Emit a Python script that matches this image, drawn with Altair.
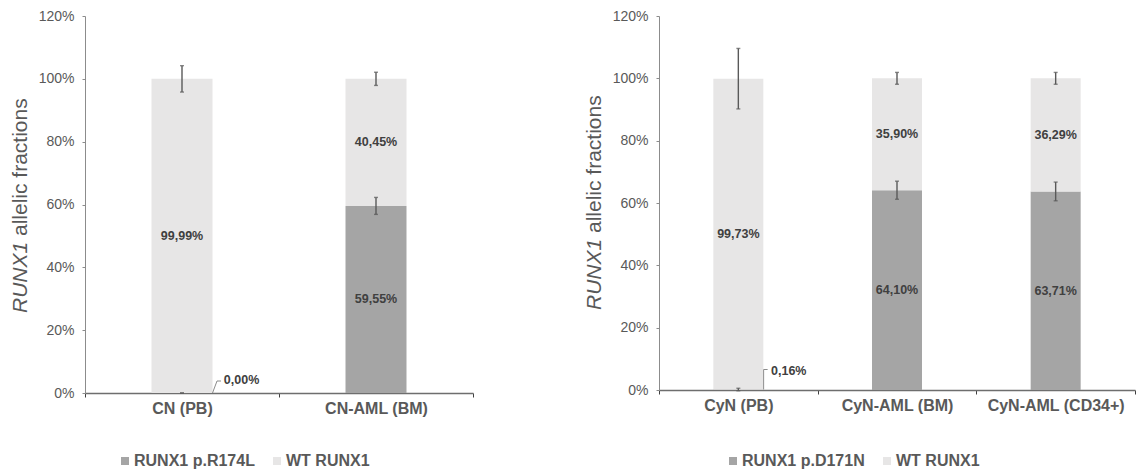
import altair as alt
import pandas as pd

FONT = "Liberation Sans"

# Left panel: CN patient
cn_categories = ["CN (PB)", "CN-AML (BM)"]
cn_mutant = [0.00, 59.55]
cn_wild_type = [99.99, 40.45]
cn_mutant_sd = [0.0, 2.7]
cn_wild_type_sd = [4.2, 2.1]
cn_mutant_name = "RUNX1 p.R174L"

# Right panel: CyN patient
cyn_categories = ["CyN (PB)", "CyN-AML (BM)", "CyN-AML (CD34+)"]
cyn_mutant = [0.16, 64.10, 63.71]
cyn_wild_type = [99.73, 35.90, 36.29]
cyn_mutant_sd = [0.4, 2.9, 3.0]
cyn_wild_type_sd = [9.7, 1.9, 1.9]
cyn_mutant_name = "RUNX1 p.D171N"

wild_type_name = "WT RUNX1"
y_ticks = [0, 20, 40, 60, 80, 100, 120]
title_italic = "RUNX1"
title_rest = "allelic fractions"

DARK = "#a5a5a5"
LIGHT = "#e7e6e6"
TEXT = "#595959"


def pct(v):
    return f"{v:.2f}%".replace(".", ",")


def panel(categories, mutant, wild_type, mutant_sd, wild_type_sd, mutant_name,
          width, height, bar_size, legend_x, leader):
    rows = []
    for c, m, w, ms, ws in zip(categories, mutant, wild_type, mutant_sd, wild_type_sd):
        rows.append(dict(cat=c, series=mutant_name, lo=0.0, hi=m, value=m, sd=ms))
        rows.append(dict(cat=c, series=wild_type_name, lo=m, hi=m + w, value=w, sd=ws))
    seg = pd.DataFrame(rows)
    seg["mid"] = (seg["lo"] + seg["hi"]) / 2
    seg["label"] = seg["value"].map(pct)
    seg["err_lo"] = seg["hi"] - seg["sd"]
    seg["err_hi"] = seg["hi"] + seg["sd"]
    inside = seg[seg["value"] >= 5]
    outside = seg[(seg["value"] < 5) & (seg["series"] == mutant_name)]

    x_axis = alt.Axis(
        title=None, labelAngle=0, labelFont=FONT, labelFontSize=16,
        labelFontWeight="bold", labelColor=TEXT, labelPadding=3,
        tickBand="extent", tickSize=4, tickColor="#404040",
        domainColor="#6e6e6e", domainWidth=1.5,
    )
    y_axis = alt.Axis(
        title=None, values=y_ticks, labelExpr="datum.value + '%'", grid=False,
        labelFont=FONT, labelFontSize=14, labelColor=TEXT, labelPadding=8,
        tickSize=3, tickColor="#8c8c8c", domainColor="#8c8c8c",
    )
    x_scale = alt.Scale(paddingInner=0, paddingOuter=0)
    y_scale = alt.Scale(domain=[0, 120], nice=False)

    def X():
        return alt.X("cat:N", sort=categories, scale=x_scale, axis=x_axis)

    def Y(field):
        return alt.Y(field, scale=y_scale, axis=y_axis)

    bars = alt.Chart(seg).mark_bar(size=bar_size).encode(
        x=X(),
        y=Y("lo:Q"),
        y2="hi:Q",
        color=alt.Color(
            "series:N",
            scale=alt.Scale(domain=[mutant_name, wild_type_name], range=[DARK, LIGHT]),
            legend=alt.Legend(
                title=None, orient="none", legendX=legend_x, legendY=437,
                direction="horizontal", symbolType="square", symbolSize=64,
                symbolStrokeWidth=0, labelFont=FONT, labelFontSize=16,
                labelFontWeight="bold", labelColor=TEXT, labelOffset=1,
                columnPadding=14, padding=0,
            ),
        ),
    )

    err = alt.Chart(seg).mark_rule(color="#595959", strokeWidth=1.4).encode(
        x=X(), y=Y("err_lo:Q"), y2="err_hi:Q"
    )
    cap_lo = alt.Chart(seg).mark_tick(color="#595959", size=4, thickness=1.4).encode(
        x=X(), y=Y("err_lo:Q")
    )
    cap_hi = alt.Chart(seg).mark_tick(color="#595959", size=4, thickness=1.4).encode(
        x=X(), y=Y("err_hi:Q")
    )

    labels = alt.Chart(inside).mark_text(
        font=FONT, fontSize=12.5, fontWeight="bold", color="#404040"
    ).encode(x=X(), y=Y("mid:Q"), text="label:N")

    # leader line and label for the near-zero mutant fraction
    dx0, dx1, dy1, dx2, tdx, tdy = leader
    lead1 = alt.Chart(outside).mark_rule(
        color="#8c8c8c", strokeWidth=1, xOffset=dx0, x2Offset=dx1, y2Offset=dy1
    ).encode(x=X(), x2="cat:N", y=Y("hi:Q"), y2="hi:Q")
    lead2 = alt.Chart(outside).mark_rule(
        color="#8c8c8c", strokeWidth=1, xOffset=dx1, x2Offset=dx2,
        yOffset=dy1, y2Offset=dy1
    ).encode(x=X(), x2="cat:N", y=Y("hi:Q"), y2="hi:Q")
    out_label = alt.Chart(outside).mark_text(
        font=FONT, fontSize=12.5, fontWeight="bold", color="#404040",
        align="left", baseline="middle", dx=tdx, dy=tdy
    ).encode(x=X(), y=Y("hi:Q"), text="label:N")

    # y-axis title: italic gene name followed by upright text, read bottom to top
    title_y = height - 80
    t1 = alt.Chart(alt.InlineData(values=[{"t": title_italic}])).mark_text(
        font=FONT, fontSize=21, fontStyle="italic", color=TEXT,
        angle=270, align="left", baseline="middle"
    ).encode(x=alt.value(-64), y=alt.value(title_y), text="t:N")
    t2 = alt.Chart(alt.InlineData(values=[{"t": title_rest}])).mark_text(
        font=FONT, fontSize=21, color=TEXT,
        angle=270, align="left", baseline="middle"
    ).encode(x=alt.value(-64), y=alt.value(title_y - 77), text="t:N")

    return alt.layer(
        bars, err, cap_lo, cap_hi, labels, lead1, lead2, out_label, t1, t2
    ).properties(width=width, height=height)


left = panel(cn_categories, cn_mutant, cn_wild_type, cn_mutant_sd, cn_wild_type_sd,
             cn_mutant_name, width=388, height=377, bar_size=61, legend_x=32,
             leader=(30.5, 35, -12, 39, 41.8, -13.4))
right = panel(cyn_categories, cyn_mutant, cyn_wild_type, cyn_mutant_sd, cyn_wild_type_sd,
              cyn_mutant_name, width=476, height=374, bar_size=50, legend_x=66,
              leader=(25.3, 25.3, -20, 29.3, 32.7, -19))

chart = (
    alt.hconcat(left, right, spacing=110)
    .resolve_scale(color="independent", x="independent", y="independent")
    .resolve_legend(color="independent")
    .configure_view(stroke=None)
    .properties(padding={"left": 10, "top": 9, "right": 0, "bottom": 0})
)

chart.save("out.html", embed_options={"renderer": "svg", "actions": False})
